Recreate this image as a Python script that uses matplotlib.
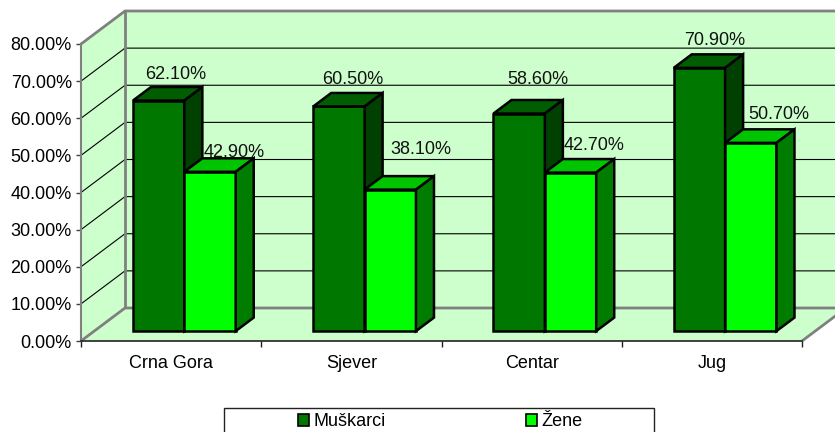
import matplotlib
matplotlib.use('Agg')
import matplotlib.pyplot as plt
from matplotlib.patches import Polygon, Rectangle, Patch
from matplotlib.ticker import FixedLocator, NullFormatter

# ---------------- data ----------------
categories = ['Crna Gora', 'Sjever', 'Centar', 'Jug']
muskarci = [62.1, 60.5, 58.6, 70.9]
zene = [42.9, 38.1, 42.7, 50.7]
series_names = ['Muškarci', 'Žene']
y_ticks = [0, 10, 20, 30, 40, 50, 60, 70, 80]

# ---------------- style ----------------
plt.rcParams['font.family'] = ['Liberation Sans', 'DejaVu Sans']
FS = 13
WALL = '#CCFFCC'
EDGE_GRAY = '#808080'
COL_M = {'front': '#007800', 'top': '#005E00', 'side': '#004000'}
COL_Z = {'front': '#00FF00', 'top': '#00C400', 'side': '#007C00'}
# label offsets in pixels relative to bar front-top centre
lab_off_m = [(17.5, 21.6), (13.5, 22.5), (18.5, 29.6), (15, 23)]
lab_off_z = [(24, 14.8), (31, 35.6), (24, 22.6), (28, 24)]

W, H = 835, 432
fig = plt.figure(figsize=(W / 100, H / 100), dpi=100)
fig.patch.set_facecolor('white')
ax = fig.add_axes([81 / W, (H - 341) / H, (802 - 81) / W, (341 - 44) / H])
ax.set_xlim(-0.5, len(categories) - 0.5)
ax.set_ylim(0, 80)
ax.patch.set_visible(False)

# depth vector in data units (full depth)
px_x = (802 - 81) / len(categories)   # pixels per category
px_y = (341 - 44) / 80.0              # pixels per percent
DX = 44 / px_x
DY = 33 / px_y
Z0, ZD = 0.30, 0.41                   # bar front depth, bar depth
BW = 0.285                            # bar width in category units


def P(x, y, z):
    return (x + z * DX, y + z * DY)


x0, x1 = -0.5, len(categories) - 0.5
ymax = y_ticks[-1]

# walls & floor
back = Polygon([P(x0, 0, 1), P(x1, 0, 1), P(x1, ymax, 1), P(x0, ymax, 1)],
               closed=True, fc=WALL, ec='none', clip_on=False, zorder=0)
left = Polygon([P(x0, 0, 0), P(x0, ymax, 0), P(x0, ymax, 1), P(x0, 0, 1)],
               closed=True, fc=WALL, ec='none', clip_on=False, zorder=0)
floor = Polygon([P(x0, 0, 0), P(x1, 0, 0), P(x1, 0, 1), P(x0, 0, 1)],
                closed=True, fc=WALL, ec='none', clip_on=False, zorder=0)
for p in (back, left, floor):
    ax.add_patch(p)

# gridlines
for t in y_ticks[1:-1]:
    xs = [P(x0, t, 0)[0], P(x0, t, 1)[0], P(x1, t, 1)[0]]
    ys = [P(x0, t, 0)[1], P(x0, t, 1)[1], P(x1, t, 1)[1]]
    ax.plot(xs, ys, color='black', lw=0.8, clip_on=False, zorder=1)

# wall edges (gray)
edges = [
    [P(x0, 0, 0), P(x0, 0, 1), P(x1, 0, 1)],
    [P(x0, 0, 1), P(x0, ymax, 1)],
    [P(x0, ymax, 0), P(x0, ymax, 1), P(x1, ymax, 1)],
    [P(x1, 0, 0), P(x1, 0, 1)],
]
for e in edges:
    ax.plot([q[0] for q in e], [q[1] for q in e], color=EDGE_GRAY, lw=2,
            clip_on=False, zorder=1, solid_capstyle='butt')


def bar3d(xl, v, cols, z):
    xr = xl + BW
    za, zb = Z0, Z0 + ZD
    front = [P(xl, 0, za), P(xr, 0, za), P(xr, v, za), P(xl, v, za)]
    top = [P(xl, v, za), P(xr, v, za), P(xr, v, zb), P(xl, v, zb)]
    side = [P(xr, 0, za), P(xr, 0, zb), P(xr, v, zb), P(xr, v, za)]
    for poly, key in ((front, 'front'), (top, 'top'), (side, 'side')):
        ax.add_patch(Polygon(poly, closed=True, fc=cols[key], ec='black',
                             lw=1.8, joinstyle='miter', clip_on=False,
                             zorder=z))


for i, (m, f) in enumerate(zip(muskarci, zene)):
    bar3d(i - BW, m, COL_M, 3 + 2 * i)
    bar3d(i, f, COL_Z, 4 + 2 * i)
    for xl, v, off in ((i - BW, m, lab_off_m[i]), (i, f, lab_off_z[i])):
        ax.annotate(f'{v:.2f}%', xy=P(xl + BW / 2, v, Z0),
                    xytext=off, textcoords='offset pixels',
                    ha='center', va='baseline', fontsize=FS,
                    color='#111111', zorder=20, annotation_clip=False)

# axes
for s in ('top', 'right'):
    ax.spines[s].set_visible(False)
ax.spines['left'].set_color(EDGE_GRAY)
ax.spines['left'].set_linewidth(1.5)
ax.spines['bottom'].set_color('#222222')
ax.spines['bottom'].set_linewidth(1.2)
ax.spines['left'].set_zorder(2)
ax.spines['bottom'].set_zorder(2)

ax.set_yticks(y_ticks)
ax.set_yticklabels([f'{t:.2f}%' for t in y_ticks])
ax.tick_params(axis='y', length=3.6, width=1.0, color='#404040', pad=3,
               labelsize=FS)
ax.xaxis.set_major_locator(FixedLocator([k - 0.5 for k in range(len(categories) + 1)]))
ax.xaxis.set_major_formatter(NullFormatter())
ax.xaxis.set_minor_locator(FixedLocator(list(range(len(categories)))))
ax.set_xticklabels(categories, minor=True)
ax.tick_params(axis='x', which='major', length=4.5, width=1.0, color='#222222')
ax.tick_params(axis='x', which='minor', length=0, pad=10, labelsize=FS)

# legend
handles = [Patch(fc=COL_M['front'], ec='black', lw=1.2, label=series_names[0]),
           Patch(fc=COL_Z['front'], ec='black', lw=1.2, label=series_names[1])]
fig.patches.append(Rectangle((223.5 / W, -5 / H), (654 - 223.5) / W, (432 - 408 + 5) / H,
                             transform=fig.transFigure, fc='white', ec='#222222',
                             lw=1.0, zorder=5))
fig.legend(handles=handles, loc='center', bbox_to_anchor=(440.5 / W, (H - 422) / H),
           ncol=2, frameon=False, fontsize=FS, handlelength=0.6, handleheight=0.6,
           handletextpad=0.25, columnspacing=7.8, borderpad=0, borderaxespad=0)

fig.savefig('out.png', dpi=100, facecolor='white')
